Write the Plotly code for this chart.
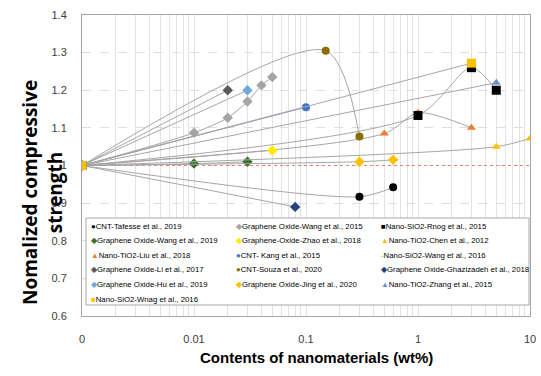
import plotly.graph_objects as go

# ---------------- data ----------------
names = [
    "CNT-Tafesse et al., 2019",
    "Graphene Oxide-Wang et al., 2019",
    "Nano-TiO2-Liu et al., 2018",
    "Graphene Oxide-Li et al., 2017",
    "Graphene Oxide-Hu et al., 2019",
    "Nano-SiO2-Wnag et al., 2016",
    "Graphene Oxide-Wang et al., 2015",
    "Graphene-Oxide-Zhao et al., 2018",
    "CNT- Kang et al., 2015",
    "CNT-Souza et al., 2020",
    "Graphene Oxide-Jing et al., 2020",
    "Nano-SiO2-Rnog et al., 2015",
    "Nano-TiO2-Chen et al., 2012",
    "Nano-SiO2-Wang et al., 2016",
    "Graphene Oxide-Ghazizadeh et al., 2018",
    "Nano-TiO2-Zhang et al., 2015",
]

tafesse_x = [0, 0.3, 0.6]
tafesse_y = [1, 0.917, 0.942]
wang2019_x = [0, 0.01, 0.03]
wang2019_y = [1, 1.005, 1.01]
liu_x = [0, 0.5, 1, 3]
liu_y = [1, 1.085, 1.14, 1.10]
li_x = [0, 0.02]
li_y = [1, 1.20]
hu_x = [0, 0.03]
hu_y = [1, 1.20]
wnag_x = [0, 3]
wnag_y = [1, 1.272]
wang2015_x = [0, 0.01, 0.02, 0.03, 0.04, 0.05]
wang2015_y = [1, 1.087, 1.127, 1.17, 1.213, 1.235]
zhao_x = [0, 0.05]
zhao_y = [1, 1.04]
kang_x = [0, 0.1]
kang_y = [1, 1.155]
souza_x = [0, 0.15, 0.3]
souza_y = [1, 1.305, 1.077]
jing_x = [0, 0.3, 0.6]
jing_y = [1, 1.01, 1.015]
rnog_x = [0, 1, 3, 5]
rnog_y = [1, 1.133, 1.26, 1.20]
chen_x = [0, 5, 10]
chen_y = [1, 1.05, 1.072]
wang2016_x = [0, 10]
wang2016_y = [1, 1]
ghaz_x = [0, 0.08]
ghaz_y = [1, 0.89]
zhang_x = [0, 5]
zhang_y = [1, 1.22]

xs = [tafesse_x, wang2019_x, liu_x, li_x, hu_x, wnag_x, wang2015_x, zhao_x,
      kang_x, souza_x, jing_x, rnog_x, chen_x, wang2016_x, ghaz_x, zhang_x]
ys = [tafesse_y, wang2019_y, liu_y, li_y, hu_y, wnag_y, wang2015_y, zhao_y,
      kang_y, souza_y, jing_y, rnog_y, chen_y, wang2016_y, ghaz_y, zhang_y]

# legend order (row by row, three columns)
legend_order = [0, 6, 11, 1, 7, 12, 2, 8, 13, 3, 9, 14, 4, 10, 15, 5]

x_tick_vals = [0, 0.01, 0.1, 1, 10]
x_tick_text = ["0", "0.01", "0.1", "1", "10"]
y_tick_vals = [0.6, 0.7, 0.8, 0.9, 1.0, 1.1, 1.2, 1.3, 1.4]
y_tick_text = ["0.6", "0.7", "0.8", "0.9", "1", "1.1", "1.2", "1.3", "1.4"]

x_title = "Contents of nanomaterials (wt%)"
y_title = "Nomalized compressive<br>strength"

# ---------------- styles ----------------
X_ZERO = 0.001  # position of the "0" label on the log axis


def xpos(v):
    return v if v > 0 else X_ZERO


colors = ["#000000", "#38702a", "#ed7d31", "#5a5a5a", "#6fa8dc", "#ffc000",
          "#a5a5a5", "#ffeb00", "#4472c4", "#8a6d00", "#ffc000", "#000000",
          "#ffc000", "#f4805a", "#264478", "#6a8fd6"]
symbols = ["circle", "diamond", "triangle-up", "diamond", "diamond", "square",
           "diamond", "diamond", "circle", "circle", "diamond", "square",
           "triangle-up", "line-ew", "diamond", "triangle-up"]
glyphs = ["●", "◆", "▲", "◆", "◆", "■", "◆", "◆", "●", "●", "◆", "■",
          "▲", "-", "◆", "▲"]
line_colors = ["#a6a6a6"] * 16
line_colors[8] = "#8497b0"
draw_order = [13, 0, 1, 2, 3, 4, 6, 7, 8, 9, 10, 11, 12, 14, 15, 5]

fig = go.Figure()
for i in draw_order:
    if i == 13:
        fig.add_trace(go.Scatter(
            x=[xpos(v) for v in xs[i]], y=ys[i], mode="lines",
            line=dict(color="#e8837a", width=1, dash="dot"),
            name=names[i], showlegend=False, hoverinfo="skip"))
        continue
    fig.add_trace(go.Scatter(
        x=[xpos(v) for v in xs[i]], y=ys[i], mode="lines+markers",
        line=dict(color=line_colors[i], width=1, shape="spline", smoothing=0.8),
        marker=dict(symbol=symbols[i], color=colors[i],
                    size=9 if symbols[i] == "square" else 8,
                    line=dict(width=0)),
        name=names[i], showlegend=False))

# ---------------- legend drawn as text ----------------
FONT = "Liberation Sans, Arial, sans-serif"
plot_l, plot_r, plot_t, plot_b = 82, 530, 15, 316
W, H = 541, 376


def px_to_paper_x(px):
    return (px - plot_l) / (plot_r - plot_l)


def px_to_paper_y(py):
    return (plot_b - py) / (plot_b - plot_t)


fig.add_shape(type="rect", xref="paper", yref="paper",
              x0=px_to_paper_x(86), x1=px_to_paper_x(529),
              y0=px_to_paper_y(305), y1=px_to_paper_y(218),
              line=dict(color="#a6a6a6", width=1), fillcolor="white",
              layer="above")

col_px = [89, 234, 379]
row_px = [226, 240.6, 255.2, 269.8, 284.4, 299]
for k, idx in enumerate(legend_order):
    r, c = divmod(k, 3)
    fig.add_annotation(
        xref="paper", yref="paper",
        x=px_to_paper_x(col_px[c]), y=px_to_paper_y(row_px[r]),
        xanchor="left", yanchor="middle", showarrow=False,
        text=f'<span style="color:{colors[idx]}">{glyphs[idx]}</span>{names[idx]}',
        font=dict(family=FONT, size=7.8, color="#000000"))

# axis titles
fig.add_annotation(
    xref="paper", yref="paper",
    x=px_to_paper_x(42), y=px_to_paper_y(193),
    xanchor="center", yanchor="middle", showarrow=False, textangle=-90,
    text=f"<b>{y_title}</b>",
    font=dict(family="Open Sans, sans-serif", size=19, color="#000000"))
fig.add_annotation(
    xref="paper", yref="paper",
    x=px_to_paper_x(316), y=px_to_paper_y(357),
    xanchor="center", yanchor="middle", showarrow=False,
    text=f"<b>{x_title}</b>",
    font=dict(family=FONT, size=15, color="#000000"))

minor_vals = [m * 10 ** e for e in range(-3, 1) for m in range(2, 10)]

fig.update_layout(
    width=W, height=H,
    margin=dict(l=plot_l, r=W - plot_r, t=plot_t, b=H - plot_b),
    paper_bgcolor="white", plot_bgcolor="white",
    showlegend=False,
    font=dict(family=FONT, color="#404040"),
    xaxis=dict(
        type="log", range=[-3, 1], automargin=False,
        tickvals=[xpos(v) for v in x_tick_vals], ticktext=x_tick_text,
        tickfont=dict(family=FONT, size=11, color="#404040"),
        ticks="", ticklabelstandoff=13,
        showgrid=True, gridcolor="#e3e3e3", gridwidth=1,
        minor=dict(tickvals=minor_vals, showgrid=True, gridcolor="#e3e3e3", ticks=""),
        showline=True, linecolor="#a6a6a6", mirror=True, zeroline=False,
    ),
    yaxis=dict(
        range=[0.6, 1.4], tickvals=y_tick_vals, ticktext=y_tick_text,
        automargin=False,
        tickfont=dict(family=FONT, size=11, color="#404040"),
        ticks="", ticklabelstandoff=12,
        showgrid=True, gridcolor="#dedede", griddash="dash",
        showline=True, linecolor="#a6a6a6", mirror=True, zeroline=False,
    ),
)

fig.write_html("out.html",
               config={"displayModeBar": False},
               post_script="document.body.style.margin='0px';document.body.style.overflow='hidden';")
